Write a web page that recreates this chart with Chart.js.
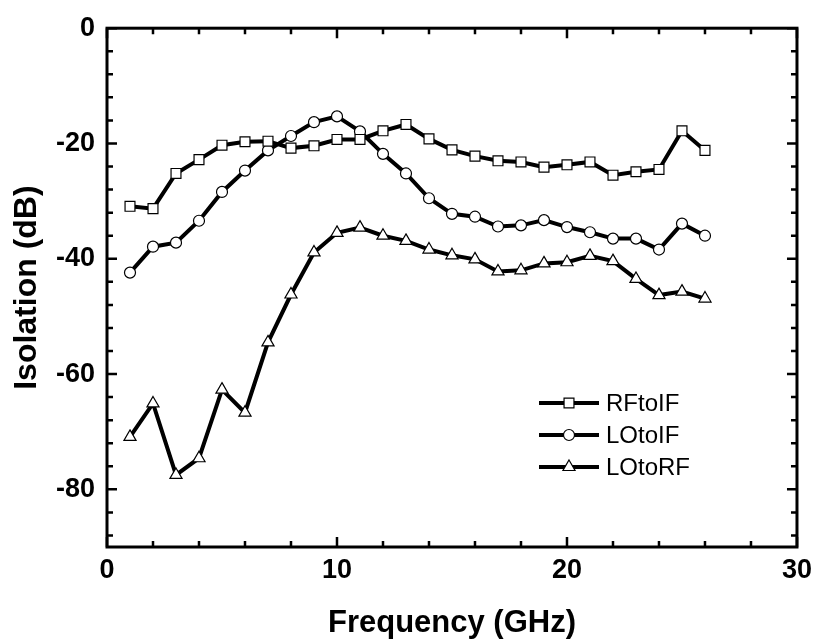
<!DOCTYPE html>
<html>
<head>
<meta charset="utf-8">
<script src="https://cdn.jsdelivr.net/npm/chart.js@4.4.1/dist/chart.umd.min.js"></script>
<style>
  html, body { margin: 0; padding: 0; background: #fff; }
  #wrap { width: 819px; height: 644px; position: relative; }
</style>
</head>
<body>
<div id="wrap"><canvas id="c" width="819" height="644"></canvas></div>
<script>
const frequency = [1,2,3,4,5,6,7,8,9,10,11,12,13,14,15,16,17,18,19,20,21,22,23,24,25,26];
const rfToIf = [-30.9,-31.3,-25.2,-22.8,-20.3,-19.7,-19.6,-20.8,-20.4,-19.3,-19.3,-17.8,-16.7,-19.2,-21.1,-22.2,-23.0,-23.2,-24.1,-23.7,-23.2,-25.5,-24.9,-24.5,-17.8,-21.2];
const loToIf = [-42.4,-37.9,-37.2,-33.4,-28.4,-24.7,-21.2,-18.7,-16.3,-15.3,-17.9,-21.8,-25.2,-29.5,-32.2,-32.7,-34.4,-34.2,-33.3,-34.5,-35.4,-36.5,-36.5,-38.4,-33.9,-36.0];
const loToRf = [-70.9,-65.1,-77.5,-74.6,-62.7,-66.7,-54.5,-46.2,-38.9,-35.5,-34.6,-36.0,-36.9,-38.4,-39.4,-40.1,-42.2,-42.0,-40.8,-40.6,-39.5,-40.4,-43.5,-46.3,-45.7,-46.9];
const seriesNames = ['RFtoIF','LOtoIF','LOtoRF'];
const xTickLabels = [0,10,20,30];
const yTickLabels = [0,-20,-40,-60,-80];

const FONT = '"Liberation Sans", Arial, Helvetica, sans-serif';

function toPoints(arr){ return arr.map((v,i)=>({x:frequency[i], y:v})); }

const styles = [
  {pointStyle:'rect', pointRadius:7},
  {pointStyle:'circle', pointRadius:5.5},
  {pointStyle:'triangle', pointRadius:7}
];
const allSeries = [rfToIf, loToIf, loToRf];

const datasets = allSeries.map((s,i)=>({
  label: seriesNames[i],
  data: toPoints(s),
  borderColor:'#000',
  borderWidth:4,
  backgroundColor:'#fff',
  pointBackgroundColor:'#fff',
  pointBorderColor:'#000',
  pointBorderWidth:1.2,
  pointStyle: styles[i].pointStyle,
  pointRadius: styles[i].pointRadius,
  pointHoverRadius: styles[i].pointRadius,
  tension:0,
  fill:false
}));

const framePlugin = {
  id:'frame',
  afterDatasetsDraw(chart){
    const ctx = chart.ctx, a = chart.chartArea;
    const xs = chart.scales.x, ys = chart.scales.y;
    ctx.save();
    ctx.strokeStyle = '#000';
    ctx.lineWidth = 3;
    ctx.lineCap = 'square';
    ctx.strokeRect(a.left, a.top, a.right - a.left, a.bottom - a.top);
    ctx.lineWidth = 2.5;
    ctx.lineCap = 'butt';
    for (let v = 0; v <= 30; v += 2) {
      const px = xs.getPixelForValue(v);
      const len = (v % 10 === 0) ? 10 : 6;
      ctx.beginPath();
      ctx.moveTo(px, a.bottom); ctx.lineTo(px, a.bottom - len);
      ctx.moveTo(px, a.top); ctx.lineTo(px, a.top + len);
      ctx.stroke();
    }
    for (let v = 0; v >= -90; v -= 4) {
      const py = ys.getPixelForValue(v);
      const len = (v % 20 === 0) ? 10 : 6;
      ctx.beginPath();
      ctx.moveTo(a.left, py); ctx.lineTo(a.left + len, py);
      ctx.moveTo(a.right, py); ctx.lineTo(a.right - len, py);
      ctx.stroke();
    }
    ctx.restore();
  }
};

const legendPlugin = {
  id:'customLegend',
  afterDraw(chart){
    const ctx = chart.ctx;
    const x0 = 539, x1 = 599, xm = 569, tx = 606;
    const rows = [403, 435, 467];
    ctx.save();
    chart.data.datasets.forEach((ds,i)=>{
      const y = rows[i];
      ctx.strokeStyle = '#000';
      ctx.lineWidth = 4;
      ctx.beginPath(); ctx.moveTo(x0,y); ctx.lineTo(x1,y); ctx.stroke();
      ctx.fillStyle = '#fff';
      ctx.strokeStyle = '#000';
      ctx.lineWidth = 1.2;
      Chart.helpers.drawPoint(ctx, {pointStyle: ds.pointStyle, radius: ds.pointRadius, rotation:0, borderWidth:1.2}, xm, y);
      ctx.fillStyle = '#000';
      ctx.font = '24px ' + FONT;
      ctx.textBaseline = 'middle';
      ctx.textAlign = 'left';
      ctx.fillText(ds.label, tx, y + 1);
    });
    ctx.restore();
  }
};

new Chart(document.getElementById('c'), {
  type:'line',
  data:{ datasets },
  options:{
    responsive:false,
    animation:false,
    events:[],
    layout:{ padding:{ top:25, right:20, left:0, bottom:0 } },
    plugins:{ legend:{display:false}, tooltip:{enabled:false} },
    scales:{
      x:{
        type:'linear', min:0, max:30,
        grid:{ display:false, drawTicks:false },
        border:{ display:false },
        afterBuildTicks(scale){ scale.ticks = xTickLabels.map(v=>({value:v})); },
        afterFit(scale){ scale.height = 97; },
        ticks:{ color:'#000', padding:7, font:{ family:FONT, size:27, weight:'bold' }, maxRotation:0, autoSkip:false },
        title:{ display:true, text:'Frequency (GHz)', color:'#000', font:{ family:FONT, size:31, weight:'bold' }, padding:{ top:0, bottom:2 } }
      },
      y:{
        type:'linear', min:-90, max:0,
        grid:{ display:false, drawTicks:false },
        border:{ display:false },
        afterBuildTicks(scale){ scale.ticks = yTickLabels.map(v=>({value:v})); },
        afterFit(scale){ scale.width = 107; },
        ticks:{ color:'#000', padding:12, font:{ family:FONT, size:27, weight:'bold' }, autoSkip:false },
        title:{ display:true, text:'Isolation (dB)', color:'#000', font:{ family:FONT, size:32, weight:'bold' }, padding:{ top:8, bottom:0 } }
      }
    }
  },
  plugins:[framePlugin, legendPlugin]
});
</script>
</body>
</html>
